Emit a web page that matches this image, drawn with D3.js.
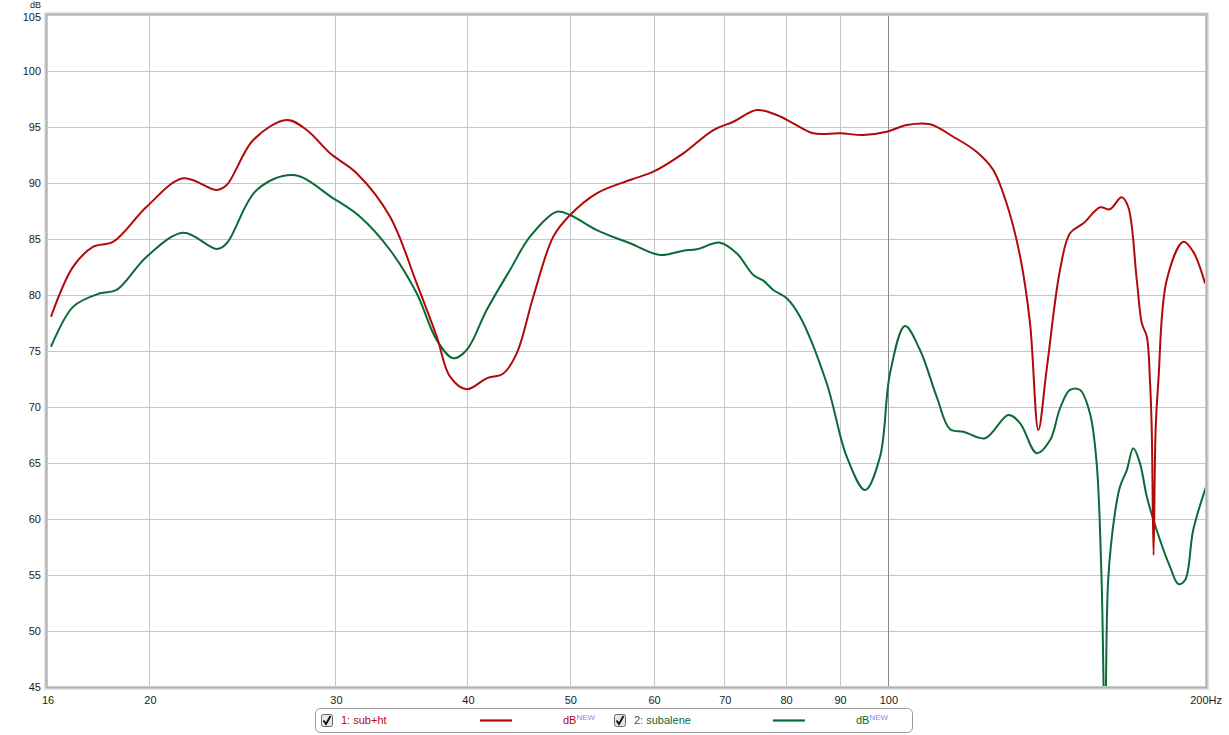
<!DOCTYPE html>
<html><head><meta charset="utf-8">
<script src="https://cdn.jsdelivr.net/npm/d3@7"></script>
<style>
html,body{margin:0;padding:0;background:#fff;}
svg{display:block;font-family:"Liberation Sans",Arial,sans-serif;}
</style></head><body>
<svg id="chart" width="1229" height="735"></svg>
<script>
// ---- data ----
const seriesNames = ["1: sub+ht", "2: subalene"];
const seriesColors = ["#b00a0a", "#0b6b38"];
const redFreq = [16.14,16.94,17.70,18.49,19.88,21.53,23.16,23.67,25.08,26.98,28.18,29.65,31.42,33.79,35.81,37.41,38.51,39.93,41.71,43.25,44.53,46.17,48.23,50.02,53.01,57.00,59.97,64.02,68.35,71.39,75.13,78.48,81.37,84.99,90.09,94.78,99.74,104.2,109.6,115.3,121.3,125.8,129.5,133.4,136.3,138.8,141.3,145.5,148.7,153.1,158.8,162.2,166.4,168.8,172.0,173.9,175.8,177.0,177.7,178.4,179.2,180.3,183.6,190.4,194.5,199.6];
const redDb   = [78.06,82.53,84.31,84.76,87.88,90.42,89.38,89.82,93.84,95.63,94.73,92.65,90.87,86.99,81.04,76.28,72.71,71.58,72.56,72.99,74.79,79.85,85.21,87.14,89.08,90.27,91.01,92.65,94.73,95.47,96.52,96.07,95.33,94.44,94.44,94.29,94.58,95.18,95.24,94.13,92.79,91.16,88.19,83.42,77.47,67.95,73.30,82.23,85.51,86.40,87.83,87.65,88.72,87.88,81.34,77.47,76.28,72.41,67.95,56.79,67.95,72.41,81.34,84.76,83.87,81.04];
const greenFreq = [16.14,16.94,17.96,18.62,19.88,21.53,23.16,23.67,25.27,27.37,29.86,31.65,33.79,35.81,37.41,38.78,39.93,41.71,43.88,45.84,48.59,50.02,53.01,57.00,60.85,64.02,65.92,69.35,71.93,74.58,76.22,77.90,80.21,82.57,87.51,91.41,95.13,98.29,100.46,103.79,107.24,111.2,114.5,117.9,123.6,130.0,133.4,138.3,142.4,145.5,148.7,152.0,155.3,157.6,159.3,160.5,161.6,164.0,165.8,168.3,170.7,173.2,175.8,179.6,184.9,188.3,191.1,194.5,200.0];
const greenDb   = [75.38,78.96,80.15,80.45,83.42,85.56,84.11,84.62,89.38,90.71,88.63,86.99,84.02,80.15,75.98,74.35,75.09,78.66,82.23,85.21,87.44,87.14,85.80,84.62,83.57,83.96,84.08,84.67,83.72,81.79,81.28,80.45,79.71,78.06,72.12,65.56,62.59,65.56,73.01,77.23,75.09,70.92,68.01,67.79,67.21,69.29,68.54,65.87,67.05,69.88,71.52,71.52,69.44,64.97,54.55,40.0,54.55,60.54,62.88,64.37,66.31,64.97,61.99,59.02,55.74,54.20,54.55,59.02,62.88];
const yTicks = [45,50,55,60,65,70,75,80,85,90,95,100,105];
const xGridTicks = [20,30,40,50,60,70,80,90,100];
const xTickValues = [16,20,30,40,50,60,70,80,90,100];
const xTickLabels = ["16","20","30","40","50","60","70","80","90","100"];

// ---- layout ----
const L = 47, R = 1206, T = 15, B = 687;
const svg = d3.select("#chart");
const x = d3.scaleLog().domain([16, 200]).range([L, R]);
const y = d3.scaleLinear().domain([45, 105]).range([B, T]);

// grid
const g = svg.append("g");
g.selectAll(".hg").data(yTicks.slice(1, -1)).join("line")
  .attr("x1", L).attr("x2", R).attr("y1", d => Math.round(y(d)) + 0.5).attr("y2", d => Math.round(y(d)) + 0.5)
  .attr("stroke", "#c6c6c6").attr("stroke-width", 1);
g.selectAll(".vg").data(xGridTicks).join("line")
  .attr("y1", T).attr("y2", B).attr("x1", d => Math.round(x(d)) + 0.5).attr("x2", d => Math.round(x(d)) + 0.5)
  .attr("stroke", d => d === 100 ? "#8a8a8a" : "#c6c6c6").attr("stroke-width", 1);

// clip
svg.append("clipPath").attr("id", "clip").append("rect")
  .attr("x", L).attr("y", T).attr("width", R - L).attr("height", B - T);

const line = d3.line().x(d => x(d[0])).y(d => y(d[1])).curve(d3.curveCatmullRom.alpha(0.5));
const series = [d3.zip(redFreq, redDb), d3.zip(greenFreq, greenDb)];
svg.append("g").attr("clip-path", "url(#clip)").selectAll("path").data([series[1], series[0]]).join("path")
  .attr("d", line).attr("fill", "none")
  .attr("stroke", (d, i) => i === 0 ? seriesColors[1] : seriesColors[0])
  .attr("stroke-width", 2).attr("stroke-linejoin", "round");

// frame
svg.append("rect").attr("x", L - 1).attr("y", T - 1).attr("width", R - L + 2).attr("height", B - T + 2)
  .attr("fill", "none").attr("stroke", "#e2e2e2").attr("stroke-width", 4);
svg.append("rect").attr("x", L - 0.5).attr("y", T - 0.5).attr("width", R - L + 1).attr("height", B - T + 1)
  .attr("fill", "none").attr("stroke", "#b2b2b2").attr("stroke-width", 2);

// y axis labels
svg.append("g").selectAll("text").data(yTicks).join("text")
  .attr("x", 41).attr("y", d => y(d) + (d === 105 ? 6 : 4)).attr("text-anchor", "end")
  .attr("font-size", 11).attr("fill", "#1a1a1a").text(d => d);
svg.append("text").attr("x", 41).attr("y", 8).attr("text-anchor", "end")
  .attr("font-size", 9).attr("fill", "#1a1a1a").text("dB");

// x axis labels
svg.append("g").selectAll("text").data(xTickValues).join("text")
  .attr("x", d => x(d) + 1).attr("y", 704).attr("text-anchor", "middle")
  .attr("font-size", 11).attr("fill", "#1a1a1a").text((d, i) => xTickLabels[i]);
svg.append("text").attr("x", 1222).attr("y", 704).attr("text-anchor", "end")
  .attr("font-size", 11).attr("fill", "#1a1a1a").text("200Hz");

// legend
const lg = svg.append("g");
lg.append("rect").attr("x", 315.5).attr("y", 708.5).attr("width", 597).attr("height", 24).attr("rx", 5)
  .attr("fill", "#fff").attr("stroke", "#9a9a9a");
const legendX = [321, 614];
seriesNames.forEach((name, i) => {
  const ox = legendX[i];
  const cb = lg.append("g").attr("transform", `translate(${ox},714)`);
  cb.append("rect").attr("x", 0.5).attr("y", 0.5).attr("width", 11).attr("height", 12).attr("rx", 2)
    .attr("fill", "#e6e6e6").attr("stroke", "#6a6a6a");
  cb.append("path").attr("d", "M2.5,6.5 L5,10 L9.5,2").attr("fill", "none").attr("stroke", "#111").attr("stroke-width", 1.8);
  lg.append("text").attr("x", ox + 20).attr("y", 724).attr("font-size", 11).attr("fill", seriesColors[i]).text(name);
  lg.append("line").attr("x1", ox + 159).attr("x2", ox + 191).attr("y1", 720.5).attr("y2", 720.5)
    .attr("stroke", seriesColors[i]).attr("stroke-width", 2.2);
  const t = lg.append("text").attr("x", ox + 242).attr("y", 724).attr("font-size", 11).attr("fill", seriesColors[i]);
  t.append("tspan").text("dB");
  t.append("tspan").attr("font-size", 8).attr("dy", -4).attr("fill", "#8888ee").text("NEW");
});
</script></body></html>
